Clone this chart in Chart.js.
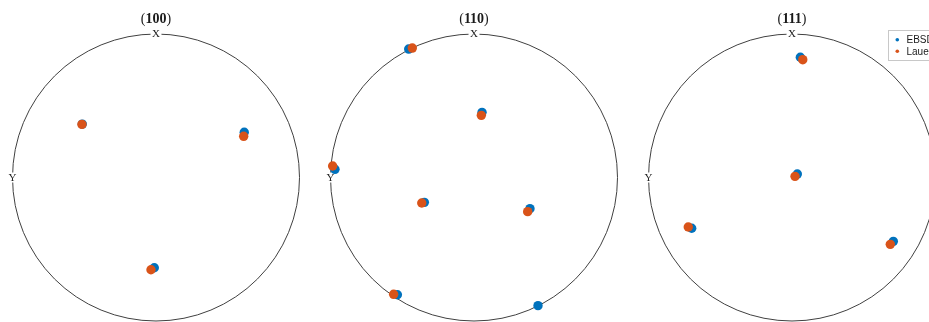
<!DOCTYPE html>
<html>
<head>
<meta charset="utf-8">
<script src="https://cdn.jsdelivr.net/npm/chart.js@4"></script>
<style>
  html, body { margin: 0; padding: 0; background: #fff; overflow: hidden; width: 929px; height: 322px; }
  .pf { position: absolute; top: 0; }
</style>
</head>
<body>
<canvas id="pf0" class="pf" width="300" height="322" style="left:6px"></canvas>
<canvas id="pf1" class="pf" width="300" height="322" style="left:324px"></canvas>
<canvas id="pf2" class="pf" width="300" height="322" style="left:642px"></canvas>
<script>
// Pole figure titles (Miller indices)
const planes = ['100', '110', '111'];
const seriesNames = ['EBSD', 'Laue'];
const seriesColors = ['#0072BD', '#D95319'];

// Projected pole positions on the unit circle (x to the right, y up; X axis up, Y axis left)
const ebsd100 = [
  { x: -0.514, y: 0.372 }, { x: 0.615, y: 0.315 }, { x: -0.012, y: -0.629 }
];
const laue100 = [
  { x: -0.516, y: 0.370 }, { x: 0.611, y: 0.287 }, { x: -0.035, y: -0.643 }
];
const ebsd110 = [
  { x: -0.455, y: 0.895 }, { x: 0.056, y: 0.454 }, { x: -0.969, y: 0.057 },
  { x: -0.346, y: -0.173 }, { x: 0.390, y: -0.217 }, { x: -0.534, y: -0.817 },
  { x: 0.446, y: -0.893 }
];
const laue110 = [
  { x: -0.430, y: 0.902 }, { x: 0.051, y: 0.433 }, { x: -0.985, y: 0.080 },
  { x: -0.364, y: -0.178 }, { x: 0.374, y: -0.238 }, { x: -0.560, y: -0.814 }
];
const ebsd111 = [
  { x: 0.058, y: 0.838 }, { x: 0.037, y: 0.024 }, { x: -0.699, y: -0.354 }, { x: 0.706, y: -0.445 }
];
const laue111 = [
  { x: 0.075, y: 0.821 }, { x: 0.021, y: 0.008 }, { x: -0.723, y: -0.345 }, { x: 0.685, y: -0.466 }
];

const ebsdSets = [ebsd100, ebsd110, ebsd111];
const laueSets = [laue100, laue110, laue111];

// Scale extents: 143.5 px per unit, circle centre at (150, 177.5) in each canvas
const PX = 143.5;
const xHalf = 150 / PX;
const yTop = 177.5 / PX;
const yBottom = (322 - 177.5) / PX;

// Draws the projection circle, the X / Y direction labels and the title
const poleFrame = {
  id: 'poleFrame',
  beforeDatasetsDraw(chart, args, opts) {
    const { ctx, scales: { x, y } } = chart;
    const cx = x.getPixelForValue(0);
    const cy = y.getPixelForValue(0);
    const r = x.getPixelForValue(1) - cx;
    ctx.save();
    ctx.strokeStyle = '#404040';
    ctx.lineWidth = 1;
    ctx.beginPath();
    ctx.arc(cx, cy, r, 0, Math.PI * 2);
    ctx.stroke();

    ctx.font = '11px "Liberation Serif", "DejaVu Serif", serif';
    ctx.textAlign = 'center';
    ctx.textBaseline = 'middle';
    const labels = [['X', cx, cy - r], ['Y', cx - r, cy]];
    labels.forEach(([t, lx, ly]) => {
      const w = ctx.measureText(t).width;
      ctx.fillStyle = '#fff';
      ctx.fillRect(lx - w / 2 - 1.5, ly - 5, w + 3, 10);
      ctx.fillStyle = '#222';
      ctx.fillText(t, lx, ly + 0.5);
    });

    // Title: regular parentheses around bold indices
    const regular = '14px "Liberation Serif", "DejaVu Serif", serif';
    const bold = 'bold 14px "Liberation Serif", "DejaVu Serif", serif';
    const ty = cy - r - 15;
    ctx.textAlign = 'left';
    ctx.font = regular;
    const wp = ctx.measureText('(').width;
    const wpc = ctx.measureText(')').width;
    ctx.font = bold;
    const wd = ctx.measureText(opts.plane).width;
    let tx = cx - (wp + wd + wpc) / 2;
    ctx.fillStyle = '#1a1a1a';
    ctx.font = regular;
    ctx.fillText('(', tx, ty);
    tx += wp;
    ctx.font = bold;
    ctx.fillText(opts.plane, tx, ty);
    tx += wd;
    ctx.font = regular;
    ctx.fillText(')', tx, ty);
    ctx.restore();
  }
};

// Boxed legend in the upper right of the last pole figure
const boxLegend = {
  id: 'boxLegend',
  afterDatasetsDraw(chart, args, opts) {
    if (!opts.show) return;
    const { ctx } = chart;
    const bx = 246.5, by = 30.5, bw = 70, bh = 30;
    ctx.save();
    ctx.fillStyle = '#fff';
    ctx.fillRect(bx, by, bw, bh);
    ctx.strokeStyle = '#c8c8c8';
    ctx.lineWidth = 1;
    ctx.strokeRect(bx, by, bw, bh);
    ctx.font = '10px "Liberation Sans", Arial, sans-serif';
    ctx.textBaseline = 'middle';
    ctx.textAlign = 'left';
    chart.data.datasets.forEach((ds, i) => {
      const ly = by + 9.2 + i * 11.6;
      ctx.fillStyle = ds.backgroundColor;
      ctx.beginPath();
      ctx.arc(bx + 8.8, ly, 1.8, 0, Math.PI * 2);
      ctx.fill();
      ctx.fillStyle = '#1a1a1a';
      ctx.fillText(ds.label, bx + 18, ly + 0.5);
    });
    ctx.restore();
  }
};

planes.forEach((plane, k) => {
  new Chart(document.getElementById('pf' + k), {
    type: 'scatter',
    data: {
      datasets: [
        { label: seriesNames[0], data: ebsdSets[k], backgroundColor: seriesColors[0], borderColor: seriesColors[0], pointRadius: 4.7, borderWidth: 0, order: 1 },
        { label: seriesNames[1], data: laueSets[k], backgroundColor: seriesColors[1], borderColor: seriesColors[1], pointRadius: 4.7, borderWidth: 0, order: 0 }
      ]
    },
    options: {
      responsive: false,
      animation: false,
      devicePixelRatio: 1,
      layout: { padding: 0, autoPadding: false },
      scales: {
        x: { type: 'linear', min: -xHalf, max: xHalf, bounds: 'data', grace: 0, display: false },
        y: { type: 'linear', min: -yBottom, max: yTop, bounds: 'data', grace: 0, display: false }
      },
      plugins: {
        legend: { display: false },
        tooltip: { enabled: false },
        poleFrame: { plane: plane },
        boxLegend: { show: k === 2 }
      }
    },
    plugins: [poleFrame, boxLegend]
  });
});
</script>
</body>
</html>
